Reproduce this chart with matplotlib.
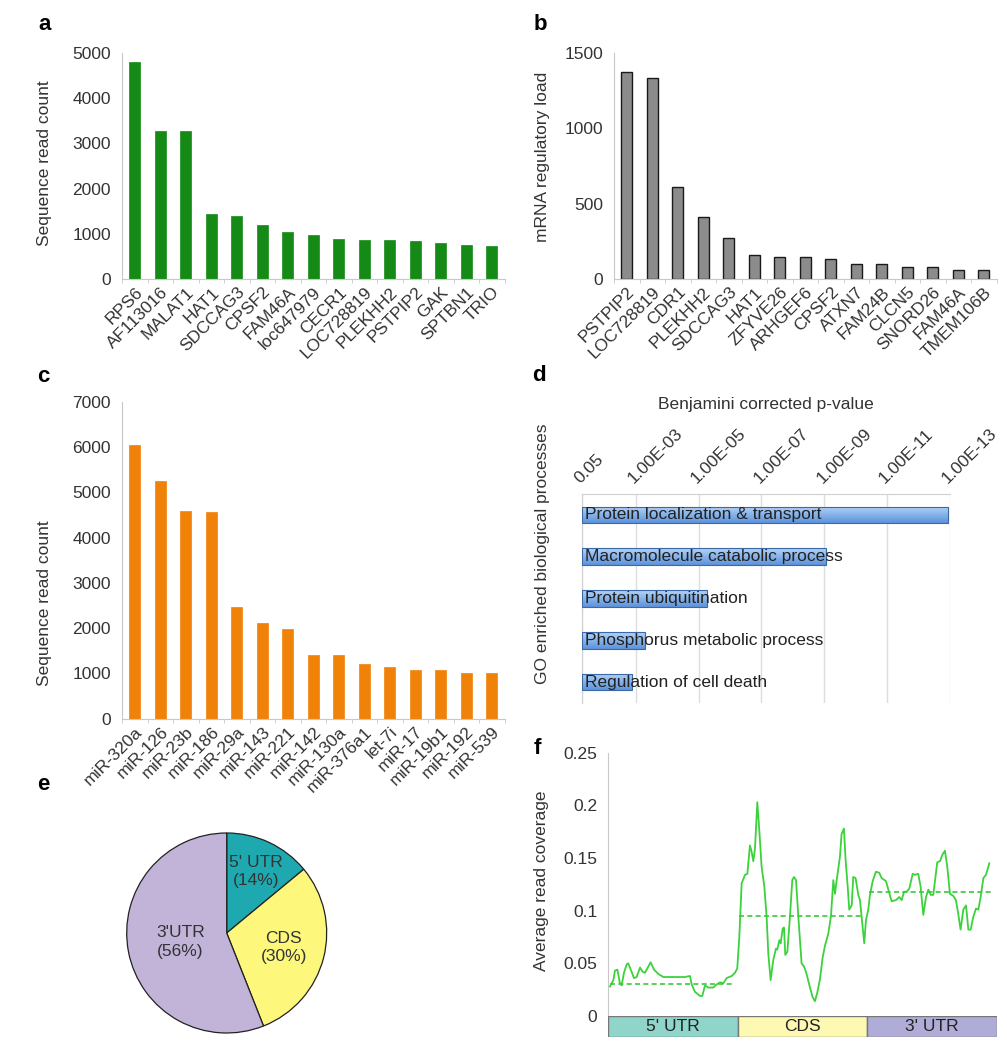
import numpy as np
import matplotlib
matplotlib.use('Agg')
import matplotlib.pyplot as plt
from matplotlib.colors import LinearSegmentedColormap

plt.rcParams['font.family'] = ['Liberation Sans', 'DejaVu Sans']

# a: top genes by read count
genes_a = ['RPS6', 'AF113016', 'MALAT1', 'HAT1', 'SDCCAG3', 'CPSF2', 'FAM46A', 'loc647979',
           'CECR1', 'LOC728819', 'PLEKHH2', 'PSTPIP2', 'GAK', 'SPTBN1', 'TRIO']
reads_a = [4800, 3270, 3270, 1445, 1390, 1190, 1047, 981, 885, 856, 856, 834, 790, 746, 723]

# b: mRNA regulatory load
genes_b = ['PSTPIP2', 'LOC728819', 'CDR1', 'PLEKHH2', 'SDCCAG3', 'HAT1', 'ZFYVE26', 'ARHGEF6',
           'CPSF2', 'ATXN7', 'FAM24B', 'CLCN5', 'SNORD26', 'FAM46A', 'TMEM106B']
load_b = [1376, 1334, 611, 411, 270, 159, 148, 144, 133, 97, 97, 82, 78, 62, 62]

# c: miRNA read counts
mirs_c = ['miR-320a', 'miR-126', 'miR-23b', 'miR-186', 'miR-29a', 'miR-143', 'miR-221', 'miR-142',
          'miR-130a', 'miR-376a1', 'let-7i', 'miR-17', 'miR-19b1', 'miR-192', 'miR-539']
reads_c = [6040, 5250, 4585, 4570, 2470, 2120, 1970, 1405, 1405, 1208, 1141, 1082, 1082, 1002, 1000]

# d: GO processes and corrected p-values
go_terms = ['Protein localization & transport', 'Macromolecule catabolic process',
            'Protein ubiquitination', 'Phosphorus metabolic process', 'Regulation of cell death']
go_pvals = [1.2e-13, 9e-10, 5.2e-6, 5.1e-4, 1.3e-3]
p_ticks = [0.05, 1e-3, 1e-5, 1e-7, 1e-9, 1e-11, 1e-13]
p_tick_labels = ['0.05', '1.00E-03', '1.00E-05', '1.00E-07', '1.00E-09', '1.00E-11', '1.00E-13']

# e: site distribution
regions = ["5' UTR", 'CDS', "3'UTR"]
region_pct = [14, 30, 56]

# f: coverage along the transcript (0-100 5'UTR, 100-200 CDS, 200-300 3'UTR)
cov_pos = [1.3, 3.9, 5.1, 7.0, 9.0, 10.3, 12.1, 14.2, 15.4, 18.0,
           19.8, 21.9, 24.5, 26.5, 28.3, 30.9, 32.7, 35.3, 38.6, 42.5,
           47.6, 52.8, 59.2, 63.1, 64.4, 66.9, 70.8, 72.6, 74.7, 77.2,
           81.1, 83.7, 86.3, 88.8, 91.4, 95.3, 97.8, 99.6, 101.2, 103.0,
           105.6, 107.4, 109.4, 110.7, 112.0, 113.3, 115.1, 116.6, 118.4, 120.5,
           122.3, 123.6, 125.4, 127.4, 129.5, 130.5, 132.1, 133.1, 134.7, 135.7,
           136.7, 138.3, 140.3, 142.1, 143.4, 145.0, 146.8, 149.3, 151.1, 152.7,
           155.8, 157.8, 159.6, 161.4, 163.5, 165.5, 167.4, 169.9, 172.0, 173.8,
           175.1, 176.4, 178.9, 180.2, 182.0, 183.3, 184.9, 186.1, 188.0, 189.2,
           191.0, 193.1, 194.4, 196.4, 197.7, 199.0, 200.8, 202.1, 204.2, 206.7,
           209.3, 211.1, 214.5, 216.3, 218.8, 222.2, 224.8, 226.6, 228.4, 230.4,
           232.5, 235.1, 236.9, 239.4, 241.2, 243.3, 245.4, 247.2, 249.0, 251.0,
           252.3, 254.1, 256.2, 258.0, 260.0, 261.8, 263.9, 266.5, 268.5, 270.3,
           272.1, 274.2, 276.3, 278.1, 279.9, 281.9, 284.0, 285.8, 287.6, 289.7,
           291.7, 294.3]
cov_val = [0.028, 0.034, 0.043, 0.044, 0.031, 0.029, 0.041, 0.049, 0.050, 0.042,
           0.036, 0.037, 0.046, 0.042, 0.041, 0.047, 0.051, 0.044, 0.040, 0.037,
           0.037, 0.037, 0.037, 0.038, 0.030, 0.023, 0.019, 0.019, 0.029, 0.027,
           0.027, 0.030, 0.032, 0.031, 0.036, 0.038, 0.041, 0.045, 0.075, 0.126,
           0.134, 0.135, 0.162, 0.156, 0.147, 0.159, 0.203, 0.177, 0.142, 0.123,
           0.094, 0.059, 0.034, 0.053, 0.064, 0.063, 0.072, 0.069, 0.083, 0.084,
           0.058, 0.061, 0.094, 0.129, 0.132, 0.129, 0.094, 0.050, 0.047, 0.042,
           0.027, 0.018, 0.014, 0.022, 0.035, 0.055, 0.067, 0.078, 0.095, 0.129,
           0.116, 0.129, 0.151, 0.173, 0.178, 0.148, 0.123, 0.101, 0.105, 0.132,
           0.131, 0.115, 0.110, 0.085, 0.069, 0.091, 0.101, 0.115, 0.128, 0.137,
           0.136, 0.131, 0.128, 0.120, 0.109, 0.110, 0.113, 0.110, 0.118, 0.118,
           0.121, 0.135, 0.134, 0.135, 0.123, 0.096, 0.113, 0.120, 0.115, 0.115,
           0.128, 0.146, 0.147, 0.153, 0.157, 0.142, 0.116, 0.114, 0.110, 0.097,
           0.082, 0.101, 0.105, 0.082, 0.082, 0.094, 0.102, 0.101, 0.113, 0.131,
           0.134, 0.145]
strip_labels = ["5' UTR", 'CDS', "3' UTR"]
region_start = [0, 100, 200]
region_len = [100, 100, 100]
region_mean = [0.030, 0.095, 0.118]

W, H = 1007, 1050
TXT = '#333333'
SPINE = '#c8c8c8'
FS = 12.5


def box(x0, y0, x1, y1):
    # pixel box -> figure fraction
    return [x0 / W, 1 - y1 / H, (x1 - x0) / W, (y1 - y0) / H]


def bar_panel(ax, labels, values, ymax, ystep, color, edge, lw):
    x = np.arange(len(labels))
    ax.bar(x, values, width=0.42, color=color, edgecolor=edge, linewidth=lw)
    ax.set_xlim(-0.5, len(labels) - 0.5)
    ax.set_ylim(0, ymax)
    ax.set_yticks(np.arange(0, ymax + 1, ystep))
    ax.set_xticks(x)
    ax.set_xticklabels(labels, rotation=45, ha='right', va='top', rotation_mode='anchor')
    ax.set_xticks(np.arange(len(labels) + 1) - 0.5, minor=True)
    ax.tick_params(axis='x', which='major', length=0, pad=4, labelsize=FS, labelcolor=TXT)
    ax.tick_params(axis='x', which='minor', length=3, color=SPINE)
    ax.tick_params(axis='y', length=0, pad=8, labelsize=FS, labelcolor=TXT)
    for s in ['top', 'right']:
        ax.spines[s].set_visible(False)
    for s in ['left', 'bottom']:
        ax.spines[s].set_color(SPINE)


fig = plt.figure(figsize=(W / 100, H / 100), dpi=100)

# panel a
ax_a = fig.add_axes(box(122, 53, 504.5, 279))
bar_panel(ax_a, genes_a, reads_a, 5000, 1000, '#168a16', '#168a16', 0.5)
fig.text(45 / W, 1 - 163 / H, 'Sequence read count', rotation=90, ha='center', va='center',
         fontsize=FS, color=TXT)

# panel b
ax_b = fig.add_axes(box(614, 53, 996.5, 279))
bar_panel(ax_b, genes_b, load_b, 1500, 500, '#8c8c8c', '#1a1a1a', 1.0)
fig.text(543 / W, 1 - 157 / H, 'mRNA regulatory load', rotation=90, ha='center', va='center',
         fontsize=FS, color=TXT)

# panel c
ax_c = fig.add_axes(box(122, 401.7, 504.5, 718.7))
bar_panel(ax_c, mirs_c, reads_c, 7000, 1000, '#f0820a', '#f0820a', 0.5)
fig.text(45 / W, 1 - 603 / H, 'Sequence read count', rotation=90, ha='center', va='center',
         fontsize=FS, color=TXT)

# panel d
ax_d = fig.add_axes(box(582.3, 494, 950, 703))
base = -np.log10(0.05)
lengths = [-np.log10(p) - base for p in go_pvals]
rows = np.arange(len(go_terms))
bars = ax_d.barh(rows, lengths, left=base, height=0.4, facecolor='none',
                 edgecolor='#3b68a6', linewidth=0.8, zorder=3)
grad = np.linspace(0, 1, 64).reshape(-1, 1)
cmap = LinearSegmentedColormap.from_list('blu', ['#b3d3f8', '#5c93dc'])
for b in bars:
    x0, y0, w, h = b.get_x(), b.get_y(), b.get_width(), b.get_height()
    im = ax_d.imshow(grad, extent=[x0, x0 + w, y0 + h, y0], cmap=cmap, aspect='auto', zorder=2)
    im.set_clip_path(b)
for r, term in zip(rows, go_terms):
    ax_d.text(base + 0.08, r, term, ha='left', va='center', fontsize=FS, color='#222222', zorder=4)
ax_d.set_xlim(base, 13)
ax_d.set_ylim(len(go_terms) - 0.5, -0.5)
ax_d.xaxis.tick_top()
ax_d.xaxis.set_label_position('top')
ax_d.set_xticks([-np.log10(p) for p in p_ticks])
ax_d.set_xticklabels(p_tick_labels, rotation=45, ha='left', va='bottom', rotation_mode='anchor')
ax_d.tick_params(axis='x', length=0, pad=6, labelsize=FS, labelcolor=TXT)
ax_d.set_yticks([])
ax_d.grid(axis='x', color='#dddddd', linewidth=1.0, zorder=0)
ax_d.set_axisbelow(True)
ax_d.set_xlabel('Benjamini corrected p-value', fontsize=FS, color=TXT, labelpad=12)
for s in ['bottom', 'right']:
    ax_d.spines[s].set_visible(False)
for s in ['top', 'left']:
    ax_d.spines[s].set_color('#d0d0d0')
fig.text(542 / W, 1 - 554 / H, 'GO enriched biological processes', rotation=90, ha='center',
         va='center', fontsize=FS, color=TXT)

# panel e
ax_e = fig.add_axes(box(226.7 - 102, 933 - 102, 226.7 + 102, 933 + 102))
wedges, _ = ax_e.pie(region_pct, colors=['#1ea9b1', '#fdf77c', '#c2b3d8'], startangle=90,
                     counterclock=False, radius=1,
                     wedgeprops=dict(edgecolor='#222222', linewidth=0.9))
label_dist = [0.68, 0.59, 0.47]
for wdg, name, pct, d in zip(wedges, regions, region_pct, label_dist):
    ang = np.deg2rad((wdg.theta1 + wdg.theta2) / 2)
    ax_e.text(d * np.cos(ang), d * np.sin(ang), f'{name}\n({pct}%)', ha='center', va='center',
              fontsize=FS, color=TXT, linespacing=1.3)
ax_e.set_xlim(-1.02, 1.02)
ax_e.set_ylim(-1.02, 1.02)
ax_e.set_aspect('equal')
ax_e.axis('off')

# panel f
ax_f = fig.add_axes(box(608.3, 752.7, 996.7, 1016))
ax_f.plot(cov_pos, cov_val, color='#3cd23c', linewidth=1.3)
for st, ln, m in zip(region_start, region_len, region_mean):
    ax_f.hlines(m, st + 1, st + ln - 4, colors='#3cc83c', linestyles=(0, (3, 2)), linewidth=1.2)
ax_f.set_xlim(0, 300)
ax_f.set_ylim(0, 0.25)
ax_f.set_yticks([0, 0.05, 0.1, 0.15, 0.2, 0.25])
ax_f.set_yticklabels(['0', '0.05', '0.1', '0.15', '0.2', '0.25'])
ax_f.set_xticks([])
ax_f.tick_params(axis='y', length=0, pad=8, labelsize=FS, labelcolor=TXT)
for s in ['top', 'right', 'bottom']:
    ax_f.spines[s].set_visible(False)
ax_f.spines['left'].set_color(SPINE)
fig.text(541.7 / W, 1 - 881 / H, 'Average read coverage', rotation=90, ha='center', va='center',
         fontsize=FS, color=TXT)

ax_s = fig.add_axes(box(608.3, 1016, 996.7, 1036.7))
ax_s.bar(region_start, [1, 1, 1], width=region_len, align='edge',
         color=['#8fd5c9', '#fdf9b3', '#b0acd8'], edgecolor='#777777', linewidth=1.0)
for st, ln, lab in zip(region_start, region_len, strip_labels):
    ax_s.text(st + ln / 2, 0.5, lab, ha='center', va='center', fontsize=FS, color='#222222')
ax_s.set_xlim(0, 300)
ax_s.set_ylim(0, 1)
ax_s.axis('off')

# panel letters
for lab, px, py in [('a', 45, 25), ('b', 540, 25), ('c', 43, 377), ('d', 539, 375),
                    ('e', 43, 785), ('f', 537, 749)]:
    fig.text(px / W, 1 - py / H, lab, fontsize=16, fontweight='bold', ha='center', va='center')

fig.savefig('out.png', dpi=100)
